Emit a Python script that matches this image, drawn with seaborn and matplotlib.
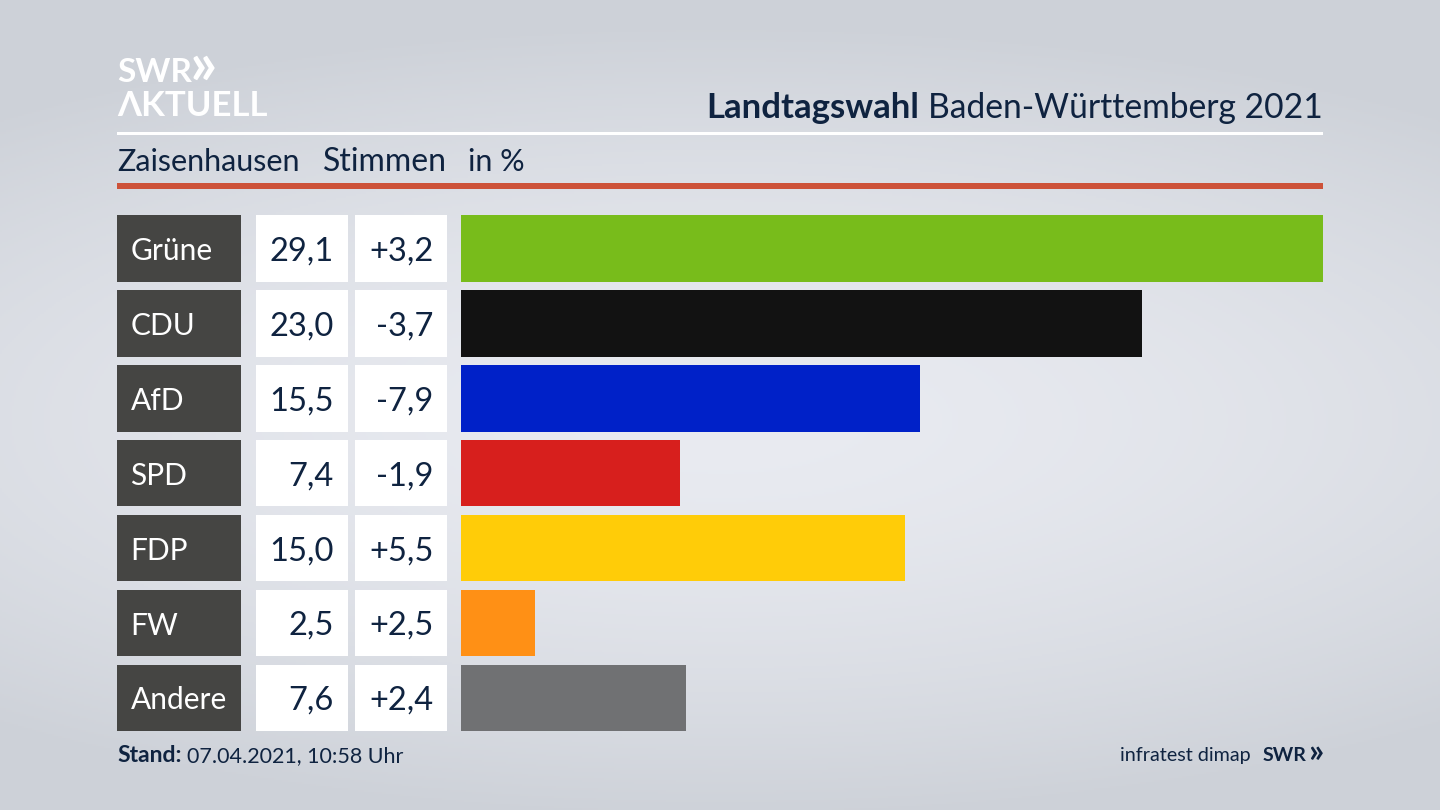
import numpy as np
import pandas as pd
import matplotlib
matplotlib.use('Agg')
import matplotlib.pyplot as plt
import seaborn as sns
from matplotlib.patches import Rectangle
from matplotlib.transforms import blended_transform_factory

parties = ['Grüne', 'CDU', 'AfD', 'SPD', 'FDP', 'FW', 'Andere']
votes = [29.1, 23.0, 15.5, 7.4, 15.0, 2.5, 7.6]
vote_labels = ['29,1', '23,0', '15,5', '7,4', '15,0', '2,5', '7,6']
diff_labels = ['+3,2', '-3,7', '-7,9', '-1,9', '+5,5', '+2,5', '+2,4']
colors = ['#78BC1B', '#121212', '#0021C8', '#D71F1D', '#FFCC08', '#FF9015', '#707173']

NAVY = '#0F2340'
sns.set_theme(style='white')
plt.rcParams['font.family'] = ['Lato', 'DejaVu Sans']

df = pd.DataFrame({'party': parties, 'votes': votes})

fig = plt.figure(figsize=(14.4, 8.1), dpi=100)

# full figure axes in pixel coordinates, for background and decoration
bg = fig.add_axes([0, 0, 1, 1])
bg.axis('off')
yy, xx = np.mgrid[0:810:2, 0:1440:2]
dist = np.sqrt(((xx - 720) / 1150) ** 2 + ((yy - 420) / 400) ** 2)
shade = np.clip(dist, 0, 1) ** 1.6
top = np.array([233, 235, 241]) / 255
edge = np.array([205, 209, 216]) / 255
img = top + (edge - top) * shade[..., None]
bg.imshow(img, extent=(0, 1440, 810, 0), aspect='auto', zorder=0)
bg.set_xlim(0, 1440)
bg.set_ylim(810, 0)

# bars
left, right = 461, 1323
y_top, y_bot = 211.0, 735.4
ax = fig.add_axes([left / 1440, 1 - y_bot / 810, (right - left) / 1440, (y_bot - y_top) / 810])
ax.patch.set_alpha(0)
sns.barplot(data=df, x='votes', y='party', hue='party', palette=colors, legend=False,
            width=0.888, saturation=1, linewidth=0, ax=ax)
ax.set_xlim(0, 29.1)
ax.axis('off')

# table cells next to the bars
trans = blended_transform_factory(bg.transData, ax.transData)
for i, party in enumerate(parties):
    for x0, x1, col in [(117, 241, '#454543'), (256, 348, 'white'), (355, 447, 'white')]:
        bg.add_patch(Rectangle((x0, i - 0.444), x1 - x0, 0.888, transform=trans,
                               facecolor=col, edgecolor='none', clip_on=False, zorder=2))
    bg.text(130.5, i, party, transform=trans, color='white', fontsize=21.5, va='center_baseline', zorder=3)
    bg.text(334, i, vote_labels[i], transform=trans, color=NAVY, fontsize=23.5, ha='right',
            va='center_baseline', zorder=3)
    bg.text(433.5, i, diff_labels[i], transform=trans, color=NAVY, fontsize=23.5, ha='right',
            va='center_baseline', zorder=3)

# header lines
bg.add_patch(Rectangle((117, 132), 1206, 3, facecolor='white', edgecolor='none', zorder=2))
bg.add_patch(Rectangle((117, 183), 1206, 6, facecolor='#CD5239', edgecolor='none', zorder=2))

# logo
bg.text(117, 82, 'SWR', color='white', fontsize=24, fontweight='bold', zorder=3)
bg.text(190, 84, '»', color='white', fontsize=43, fontweight='bold', zorder=3)
bg.text(117, 116, 'ΛKTUELL', color='white', fontsize=25, fontweight='bold', zorder=3)

# title, regular part right aligned, bold part placed in front of it
t2 = bg.text(1323, 118, 'Baden-Württemberg 2021', color=NAVY, fontsize=24.2, ha='right', zorder=3)
fig.canvas.draw()
ext = t2.get_window_extent()
bg.text(ext.x0 - 9, 118, 'Landtagswahl', color=NAVY, fontsize=25, fontweight='bold', ha='right', zorder=3)

bg.text(117, 171, 'Zaisenhausen', color=NAVY, fontsize=22, zorder=3)
bg.text(323, 171, 'Stimmen', color=NAVY, fontsize=23, zorder=3)
bg.text(468, 171, 'in %', color=NAVY, fontsize=22, zorder=3)

# footer
bg.text(117, 762, 'Stand:', color=NAVY, fontsize=16.5, fontweight='bold', zorder=3)
bg.text(187, 762, '07.04.2021, 10:58 Uhr', color=NAVY, fontsize=15.5, zorder=3)
bg.text(1251, 761, 'infratest dimap', color=NAVY, fontsize=14.2, ha='right', zorder=3)
bg.text(1263, 761, 'SWR', color=NAVY, fontsize=14, fontweight='bold', zorder=3)
bg.text(1323.5, 762, '»', color=NAVY, fontsize=24, fontweight='bold', ha='right', zorder=3)

fig.savefig('out.png', dpi=100)
